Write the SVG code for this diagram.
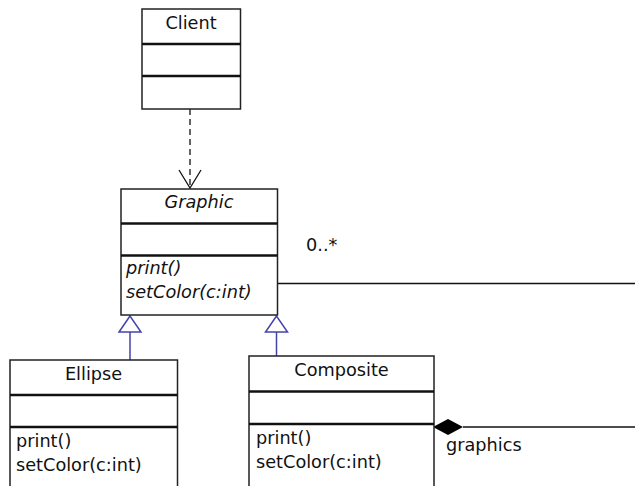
<svg xmlns="http://www.w3.org/2000/svg" width="635" height="486" viewBox="0 0 635 486">
<style>
.box{fill:#fff;stroke:#222;stroke-width:1.5}
.sep{stroke:#111;stroke-width:2.5}
.t{font-family:"DejaVu Sans",sans-serif;font-size:17.7px;fill:#111}
.c{text-anchor:middle}
.i{font-style:italic}
.ln{fill:none;stroke:#111;stroke-width:1.3}
.gen{fill:#fff;stroke:#4343a8;stroke-width:1.5}
.genl{stroke:#4343a8;stroke-width:1.5}
</style>
<g id="connectors">
<line class="ln" x1="190" y1="109" x2="190" y2="187" stroke-dasharray="6,4"/>
<polyline class="ln" points="179,170 190,188 201,170"/>
<line class="genl" x1="130" y1="332" x2="130" y2="360"/>
<polygon class="gen" points="130,316 119,332 141,332"/>
<line class="genl" x1="276.5" y1="332" x2="276.5" y2="356"/>
<polygon class="gen" points="276.5,316 265.5,332 287.5,332"/>
<line class="ln" x1="278" y1="283.5" x2="635" y2="283.5"/>
<text class="t" x="306" y="251">0..*</text>
<line class="ln" x1="463" y1="427" x2="635" y2="427"/>
<polygon points="433,427 448,419 463,427 448,435" fill="#000"/>
<text class="t" x="446" y="451">graphics</text>
</g>
<g id="Client">
<rect class="box" x="142" y="9" width="98.5" height="100"/>
<line class="sep" x1="142" y1="44" x2="240.5" y2="44"/>
<line class="sep" x1="142" y1="76" x2="240.5" y2="76"/>
<text class="t c" x="191" y="29">Client</text>
</g>
<g id="Graphic">
<rect class="box" x="121" y="189" width="156.5" height="126"/>
<line class="sep" x1="121" y1="223.5" x2="277.5" y2="223.5"/>
<line class="sep" x1="121" y1="255.5" x2="277.5" y2="255.5"/>
<text class="t c i" x="199" y="208">Graphic</text>
<text class="t i" x="126" y="273.5">print()</text>
<text class="t i" x="126" y="298">setColor(c:int)</text>
</g>
<g id="Ellipse">
<rect class="box" x="10" y="360" width="167.5" height="140"/>
<line class="sep" x1="10" y1="395" x2="177.5" y2="395"/>
<line class="sep" x1="10" y1="427" x2="177.5" y2="427"/>
<text class="t c" x="93.5" y="380">Ellipse</text>
<text class="t" x="16" y="446.5">print()</text>
<text class="t" x="16" y="471">setColor(c:int)</text>
</g>
<g id="Composite">
<rect class="box" x="249" y="356" width="185" height="140"/>
<line class="sep" x1="249" y1="391.5" x2="434" y2="391.5"/>
<line class="sep" x1="249" y1="424" x2="434" y2="424"/>
<text class="t c" x="341.5" y="376">Composite</text>
<text class="t" x="256" y="443.5">print()</text>
<text class="t" x="256" y="468">setColor(c:int)</text>
</g>
</svg>
